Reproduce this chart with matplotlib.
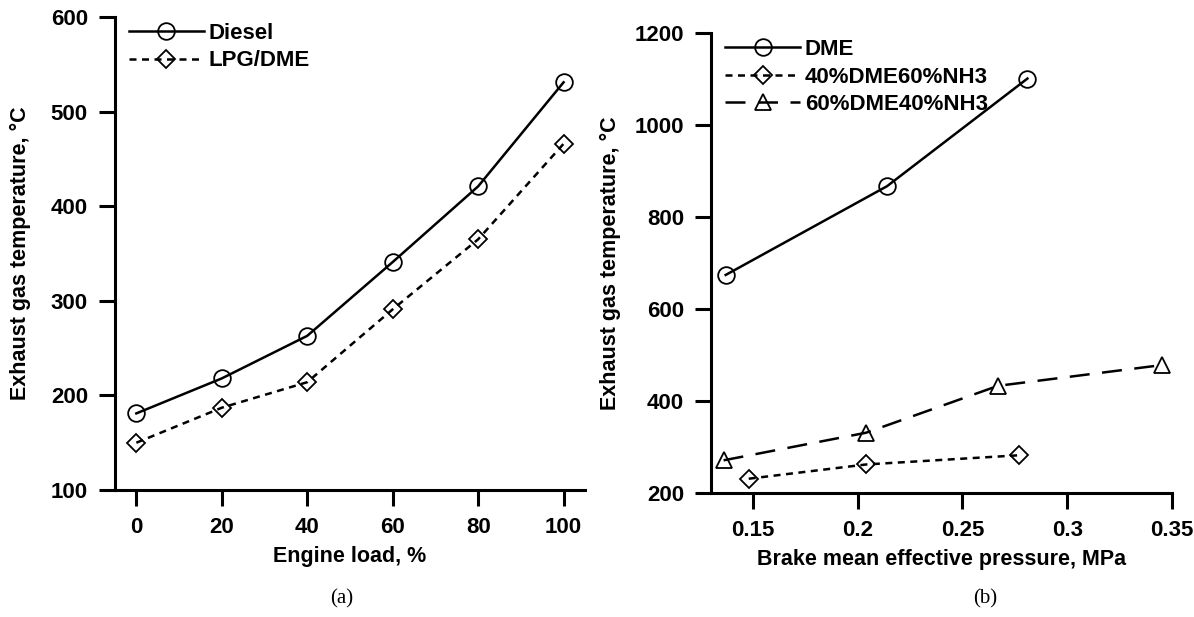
import matplotlib
matplotlib.use('Agg')
import matplotlib.pyplot as plt

plt.rcParams['font.family'] = ['Liberation Sans', 'DejaVu Sans']
plt.rcParams['font.weight'] = 'bold'

# (a) engine load vs exhaust temperature
load = [0, 20, 40, 60, 80, 100]
diesel = [181, 218, 263, 341, 421, 531]
lpg_dme = [150, 187, 214, 291, 365, 466]

# (b) BMEP vs exhaust temperature
dme_x = [0.137, 0.214, 0.281]
dme_y = [674, 867, 1101]
d40_x = [0.148, 0.204, 0.277]
d40_y = [231, 262, 282]
d60_x = [0.136, 0.204, 0.267, 0.345]
d60_y = [271, 331, 433, 478]

ylabel = 'Exhaust gas temperature, \u00b0C'

fig = plt.figure(figsize=(11.94, 6.17), dpi=100)
ax1 = fig.add_axes([0.0963, 0.2058, 0.3936, 0.7666])
ax2 = fig.add_axes([0.5955, 0.2010, 0.3861, 0.7455])

lw = 1.8
short = (0, (2.8, 2.2))
long_ = (0, (8, 5))
mk = dict(markerfacecolor='none', markeredgecolor='black', markeredgewidth=1.3)

ax1.plot(load, diesel, '-', color='black', lw=lw, marker='o', markersize=12, label='Diesel', **mk)
ax1.plot(load, lpg_dme, color='black', lw=lw, linestyle=short, marker='D', markersize=9.5,
         label='LPG/DME', **mk)
ax1.set_xlim(-5, 105)
ax1.set_ylim(100, 600)
ax1.set_xticks([0, 20, 40, 60, 80, 100])
ax1.set_yticks([100, 200, 300, 400, 500, 600])
ax1.set_xlabel('Engine load, %', fontsize=15.5, fontweight='bold', labelpad=6)
ax1.set_ylabel(ylabel, fontsize=15.5, fontweight='bold', labelpad=14)

ax2.plot(dme_x, dme_y, '-', color='black', lw=lw, marker='o', markersize=12, label='DME', **mk)
ax2.plot(d40_x, d40_y, color='black', lw=lw, linestyle=short, marker='D', markersize=9.5,
         label='40%DME60%NH3', **mk)
ax2.plot(d60_x, d60_y, color='black', lw=lw, linestyle=long_, marker='^', markersize=12,
         label='60%DME40%NH3', **mk)
ax2.set_xlim(0.13, 0.35)
ax2.set_ylim(200, 1200)
ax2.set_xticks([0.15, 0.2, 0.25, 0.3, 0.35])
ax2.set_xticklabels(['0.15', '0.2', '0.25', '0.3', '0.35'])
ax2.set_yticks([200, 400, 600, 800, 1000, 1200])
ax2.set_xlabel('Brake mean effective pressure, MPa', fontsize=15.5, fontweight='bold', labelpad=6)
ax2.set_ylabel(ylabel, fontsize=15.5, fontweight='bold', labelpad=10)

for ax in (ax1, ax2):
    for s in ('top', 'right'):
        ax.spines[s].set_visible(False)
    for s in ('left', 'bottom'):
        ax.spines[s].set_linewidth(2.2)
    ax.tick_params(direction='out', length=11.5, width=2.2, labelsize=16, pad=8)
    for t in ax.get_xticklabels() + ax.get_yticklabels():
        t.set_fontweight('bold')
    ax.legend(loc='upper left', bbox_to_anchor=(-0.004, 1.021), frameon=False, fontsize=16,
              handlelength=3.4, handletextpad=0.2, labelspacing=0.3, borderaxespad=0.3)

fig.text(0.2865, 0.022, '(a)', fontsize=15, family='Liberation Serif', fontweight='normal', ha='center')
fig.text(0.825, 0.022, '(b)', fontsize=15, family='Liberation Serif', fontweight='normal', ha='center')

fig.savefig('out.png', dpi=100)
